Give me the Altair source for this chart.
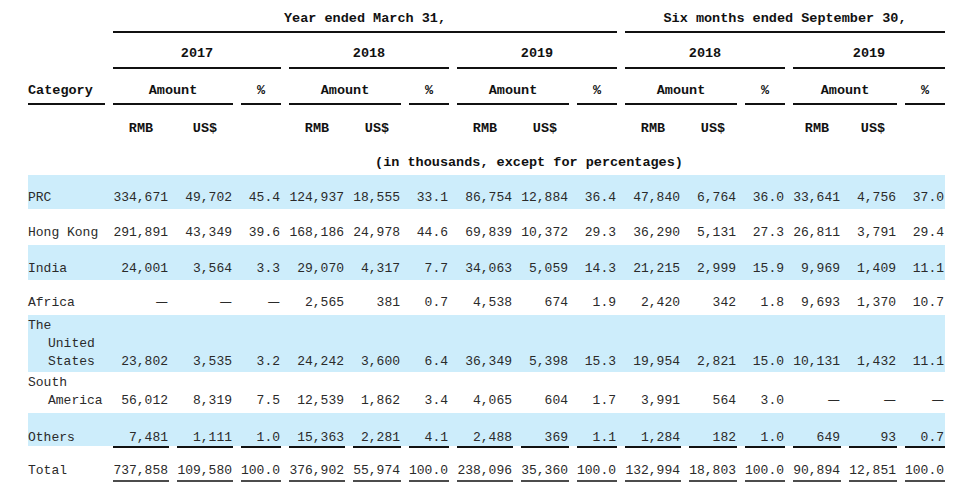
import altair as alt
import pandas as pd

# ---------------- data ----------------
categories = ["PRC", "Hong Kong", "India", "Africa", "The United States",
              "South America", "Others", "Total"]
label_lines = [["PRC"], ["Hong Kong"], ["India"], ["Africa"],
               ["The", "United", "States"], ["South", "America"], ["Others"], ["Total"]]

rmb_fy2017 = [334671, 291891, 24001, None, 23802, 56012, 7481, 737858]
usd_fy2017 = [49702, 43349, 3564, None, 3535, 8319, 1111, 109580]
pct_fy2017 = [45.4, 39.6, 3.3, None, 3.2, 7.5, 1.0, 100.0]
rmb_fy2018 = [124937, 168186, 29070, 2565, 24242, 12539, 15363, 376902]
usd_fy2018 = [18555, 24978, 4317, 381, 3600, 1862, 2281, 55974]
pct_fy2018 = [33.1, 44.6, 7.7, 0.7, 6.4, 3.4, 4.1, 100.0]
rmb_fy2019 = [86754, 69839, 34063, 4538, 36349, 4065, 2488, 238096]
usd_fy2019 = [12884, 10372, 5059, 674, 5398, 604, 369, 35360]
pct_fy2019 = [36.4, 29.3, 14.3, 1.9, 15.3, 1.7, 1.1, 100.0]
rmb_6m2018 = [47840, 36290, 21215, 2420, 19954, 3991, 1284, 132994]
usd_6m2018 = [6764, 5131, 2999, 342, 2821, 564, 182, 18803]
pct_6m2018 = [36.0, 27.3, 15.9, 1.8, 15.0, 3.0, 1.0, 100.0]
rmb_6m2019 = [33641, 26811, 9969, 9693, 10131, None, 649, 90894]
usd_6m2019 = [4756, 3791, 1409, 1370, 1432, None, 93, 12851]
pct_6m2019 = [37.0, 29.4, 11.1, 10.7, 11.1, None, 0.7, 100.0]

series = [rmb_fy2017, usd_fy2017, pct_fy2017,
          rmb_fy2018, usd_fy2018, pct_fy2018,
          rmb_fy2019, usd_fy2019, pct_fy2019,
          rmb_6m2018, usd_6m2018, pct_6m2018,
          rmb_6m2019, usd_6m2019, pct_6m2019]
is_pct = [False, False, True] * 5

group_titles = [("Year ended March 31,", 0, 8), ("Six months ended September 30,", 9, 14)]
year_titles = [("2017", 0, 2), ("2018", 3, 5), ("2019", 6, 8), ("2018", 9, 11), ("2019", 12, 14)]
note_text = "(in thousands, except for percentages)"

# ---------------- layout (pixels) ----------------
cell_left = [113, 177, 241, 289, 353, 409, 457, 521, 577, 625, 689, 745, 793, 849, 905]
cell_right = [169, 233, 281, 345, 401, 449, 513, 569, 617, 681, 737, 785, 841, 897, 945]
row_line_y = [[197], [232], [268], [302], [325, 343, 361], [382, 400], [437], [470]]
band_rows = {0: (175, 209), 2: (245, 280), 4: (315, 372), 6: (413, 446)}
LEFT, RIGHT, INDENT = 28, 945, 20
Y_GROUP, Y_YEAR, Y_AMT, Y_CUR, Y_NOTE = 18, 53, 90, 128, 162
L_GROUP, L_YEAR, L_AMT = 32, 68, 104
L_OTHERS, L_TOT1, L_TOT2 = 447, 481, 485

# ---------------- tables ----------------
vals, dashes = [], []
for r, cat in enumerate(categories):
    y = row_line_y[r][-1]
    for c, s in enumerate(series):
        v = s[r]
        if v is None:
            dashes.append({"x": cell_right[c] - 1, "y": y, "t": "\u2014"})
        else:
            t = f"{v:.1f}" if is_pct[c] else f"{v:,}"
            vals.append({"x": cell_right[c] - 1, "y": y, "t": t})
vals_df = pd.DataFrame(vals)
dash_df = pd.DataFrame(dashes)

labels = []
for r, lines in enumerate(label_lines):
    for i, ln in enumerate(lines):
        labels.append({"x": LEFT + (INDENT if i > 0 else 0), "y": row_line_y[r][i], "t": ln})
labels_df = pd.DataFrame(labels)

def span_center(a, b):
    return (cell_left[a] + cell_right[b]) / 2

heads = []
for t, a, b in group_titles:
    heads.append({"x": span_center(a, b), "y": Y_GROUP, "t": t})
for t, a, b in year_titles:
    heads.append({"x": span_center(a, b), "y": Y_YEAR, "t": t})
for g in range(5):
    c0 = g * 3
    heads.append({"x": span_center(c0, c0 + 1), "y": Y_AMT, "t": "Amount"})
    heads.append({"x": span_center(c0 + 2, c0 + 2), "y": Y_AMT, "t": "%"})
    heads.append({"x": span_center(c0, c0), "y": Y_CUR, "t": "RMB"})
    heads.append({"x": span_center(c0 + 1, c0 + 1), "y": Y_CUR, "t": "US$"})
heads_df = pd.DataFrame(heads)
note_df = pd.DataFrame([{"x": span_center(0, 14), "y": Y_NOTE, "t": note_text}])
cat_df = pd.DataFrame([{"x": LEFT, "y": Y_AMT, "t": "Category"}])

rules = []
for t, a, b in group_titles:
    rules.append({"x": cell_left[a], "x2": cell_right[b], "y": L_GROUP, "w": 2})
for t, a, b in year_titles:
    rules.append({"x": cell_left[a], "x2": cell_right[b], "y": L_YEAR, "w": 2})
rules.append({"x": LEFT, "x2": 105, "y": L_AMT, "w": 2})
for g in range(5):
    c0 = g * 3
    rules.append({"x": cell_left[c0], "x2": cell_right[c0 + 1], "y": L_AMT, "w": 2})
    rules.append({"x": cell_left[c0 + 2], "x2": cell_right[c0 + 2], "y": L_AMT, "w": 2})
for c in range(15):
    rules.append({"x": cell_left[c], "x2": cell_right[c], "y": L_OTHERS, "w": 2})
    rules.append({"x": cell_left[c], "x2": cell_right[c], "y": L_TOT1, "w": 1.5})
    rules.append({"x": cell_left[c], "x2": cell_right[c], "y": L_TOT2, "w": 1.5})
rules_df = pd.DataFrame(rules)

bands_df = pd.DataFrame([{"x": LEFT, "x2": RIGHT, "y": t, "y2": b} for t, b in band_rows.values()])

# ---------------- chart ----------------
W, H = 959, 476
xs = alt.Scale(domain=[8, 8 + W], nice=False, zero=False)
ys = alt.Scale(domain=[8, 8 + H], nice=False, zero=False, reverse=True)
X = lambda f="x": alt.X(f"{f}:Q", scale=xs, axis=None)
Y = lambda f="y": alt.Y(f"{f}:Q", scale=ys, axis=None)

bands = alt.Chart(bands_df).mark_rect(color="#cdedfb").encode(
    x=X(), x2="x2:Q", y=Y(), y2="y2:Q")

rule_layer = alt.Chart(rules_df).mark_rule(color="#111111").encode(
    x=X(), x2="x2:Q", y=Y(), strokeWidth=alt.StrokeWidth("w:Q", scale=None))

MONO = "Liberation Mono"
head_layer = alt.Chart(heads_df).mark_text(
    font=MONO, fontSize=13.5, fontWeight="bold", color="#111111",
    align="center", baseline="middle").encode(x=X(), y=Y(), text="t:N")
note_layer = alt.Chart(note_df).mark_text(
    font=MONO, fontSize=13.5, fontWeight="bold", color="#111111",
    align="center", baseline="middle").encode(x=X(), y=Y(), text="t:N")
cat_layer = alt.Chart(cat_df).mark_text(
    font=MONO, fontSize=13.5, fontWeight="bold", color="#111111",
    align="left", baseline="middle").encode(x=X(), y=Y(), text="t:N")

label_layer = alt.Chart(labels_df).mark_text(
    font=MONO, fontSize=13, color="#2a2a2a",
    align="left", baseline="middle").encode(x=X(), y=Y(), text="t:N")
val_layer = alt.Chart(vals_df).mark_text(
    font=MONO, fontSize=13, color="#2a2a2a",
    align="right", baseline="middle").encode(x=X(), y=Y(), text="t:N")
dash_layer = alt.Chart(dash_df).mark_text(
    font="Noto Sans CJK SC", fontSize=14, color="#2a2a2a",
    align="right", baseline="middle").encode(x=X(), y=Y(), text="t:N")

chart = alt.layer(bands, rule_layer, head_layer, note_layer, cat_layer,
                  label_layer, val_layer, dash_layer).properties(
    width=W, height=H, padding=0,
    autosize=alt.AutoSizeParams(type="none"),
    background="white",
).configure_view(stroke=None)

chart.save("out.html", embed_options={"renderer": "svg", "actions": False})
